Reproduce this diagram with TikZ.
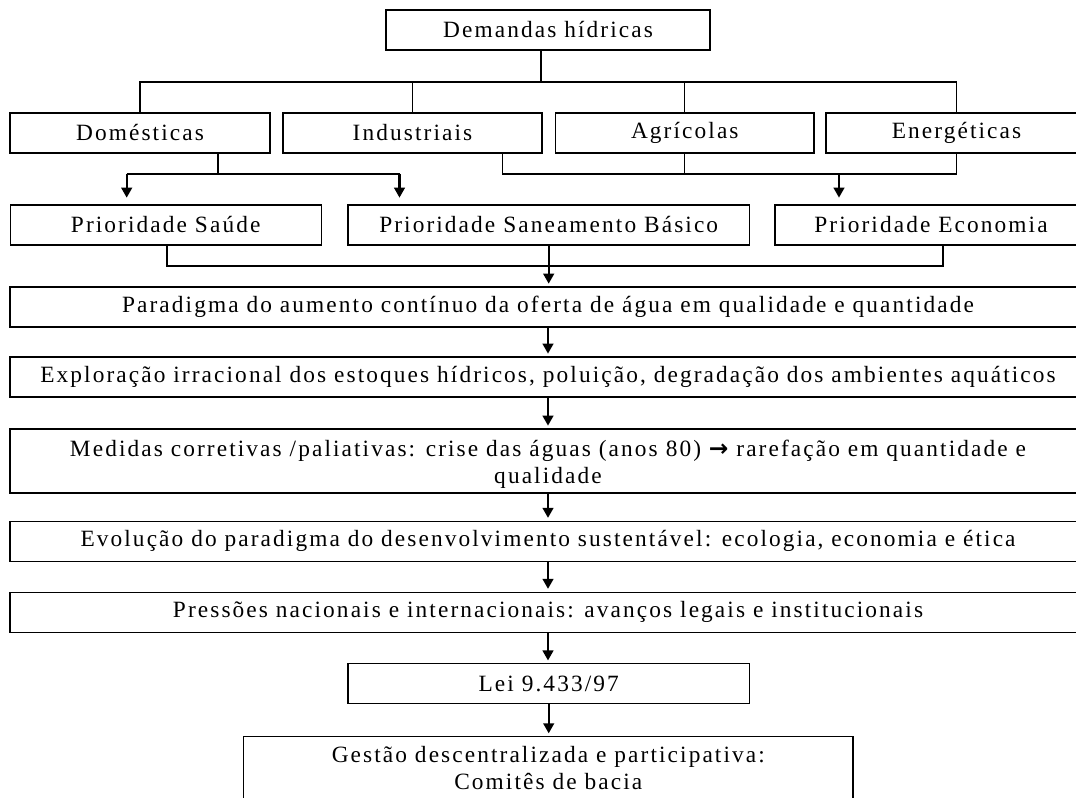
\documentclass[tikz,border=0pt]{standalone}
\usepackage{fontspec}
\setmainfont{Liberation Serif}[LetterSpace=9]
\newfontfamily\arrowfont{DejaVu Sans}
\usetikzlibrary{arrows.meta}
\begin{document}
\begin{tikzpicture}[x=0.75pt,y=-0.75pt,
  box/.style={draw, line width=1pt, inner sep=0pt, minimum height=30pt, align=center, font=\fontsize{17.5}{20}\selectfont},
  txt/.style={inner sep=0pt, align=center, font=\fontsize{17.5}{20}\selectfont},
  ln/.style={line width=1pt},
  arr/.style={line width=1.6pt, -{Triangle[length=7.5pt,width=8pt]}}]
\useasboundingbox (0,0) rectangle (1076,798);
% boxes
\node[box, minimum width=243pt] (dem) at (548,30) {Demandas hídricas};
\node[box, minimum width=195pt] (dom) at (140,133) {Domésticas};
\node[box, minimum width=194.25pt] (ind) at (412.5,133) {Industriais};
\node[box, minimum width=193.9pt] (agr) at (684.8,133) {Agrícolas};
\node[box, minimum width=195.75pt] (ene) at (956.5,133) {Energéticas};
\node[box, minimum width=233.25pt] (sau) at (165.7,225) {Prioridade Saúde};
\node[box, minimum width=301.1pt] (san) at (548.7,225) {Prioridade Saneamento Básico};
\node[box, minimum width=234pt] (eco) at (931,225) {Prioridade Economia};
\node[box, minimum width=807pt] (par) at (548,307) {Paradigma do aumento contínuo da oferta de água em qualidade e quantidade};
\node[box, minimum width=807pt] (exp) at (548,377) {Exploração irracional dos estoques hídricos, poluição, degradação dos ambientes aquáticos};
\node[box, minimum width=807pt, minimum height=48pt] (med) at (548,461) {};
\node[txt] (medtxt) at (548,464) {Medidas corretivas /paliativas: crise das águas (anos 80) {\arrowfont\bfseries →} rarefação em quantidade e\\qualidade};
\node[box, minimum width=807pt] (evo) at (548,541.2) {Evolução do paradigma do desenvolvimento sustentável: ecologia, economia e ética};
\node[box, minimum width=807pt] (pre) at (548,612.2) {Pressões nacionais e internacionais: avanços legais e institucionais};
\node[box, minimum width=301.1pt] (lei) at (548.7,683.8) {Lei 9.433/97};
\node[box, anchor=north, minimum width=457pt, minimum height=75pt] (ges) at (548.3,736) {};
\node[txt] (gestxt) at (548.3,768) {Gestão descentralizada e participativa:\\Comitês de bacia};
% junction coordinates
\coordinate (tr) at (541,82);
\coordinate (d1) at (218,174);
\coordinate (a1) at (126.7,174);
\coordinate (a2) at (399.5,174);
\coordinate (i1) at (502.8,174);
\coordinate (c1) at (839,174);
\coordinate (h1) at (167,266);
\coordinate (h2) at (943,266);
% top tree
\draw[ln] (dem.south -| tr) -- (tr);
\draw[ln] (dom.north) -- (dom.north |- tr) -- (ene.north |- tr) -- (ene.north);
\draw[ln] (ind.north) -- (ind.north |- tr);
\draw[ln] (agr.north) -- (agr.north |- tr);
% domesticas
\draw[ln] (dom.south -| d1) -- (d1);
\draw[ln] (a1) -- (a2);
\draw[arr, shorten >=5pt] (a1) -- (a1 |- sau.north);
\draw[arr, shorten >=5pt] (a2) -- (a2 |- san.north);
% industriais / agricolas / energeticas
\draw[ln] (ind.south -| i1) -- (i1) -- (ene.south |- i1) -- (ene.south);
\draw[ln] (agr.south) -- (agr.south |- i1);
\draw[arr, shorten >=5pt] (c1) -- (c1 |- eco.north);
% priorities
\draw[ln] (sau.south -| h1) -- (h1) -- (h2) -- (eco.south -| h2);
\draw[arr, shorten >=2pt] (san.south) -- (san.south |- par.north);
% chain
\draw[arr, shorten >=2pt] (par.south) -- (exp.north);
\draw[arr, shorten >=2pt] (exp.south) -- (med.north);
\draw[arr, shorten >=2pt] (med.south) -- (evo.north);
\draw[arr, shorten >=2pt] (evo.south) -- (pre.north);
\draw[arr, shorten >=2pt] (pre.south) -- (pre.south |- lei.north);
\draw[arr, shorten >=2pt] (lei.south) -- (lei.south |- ges.north);
\end{tikzpicture}
\end{document}
